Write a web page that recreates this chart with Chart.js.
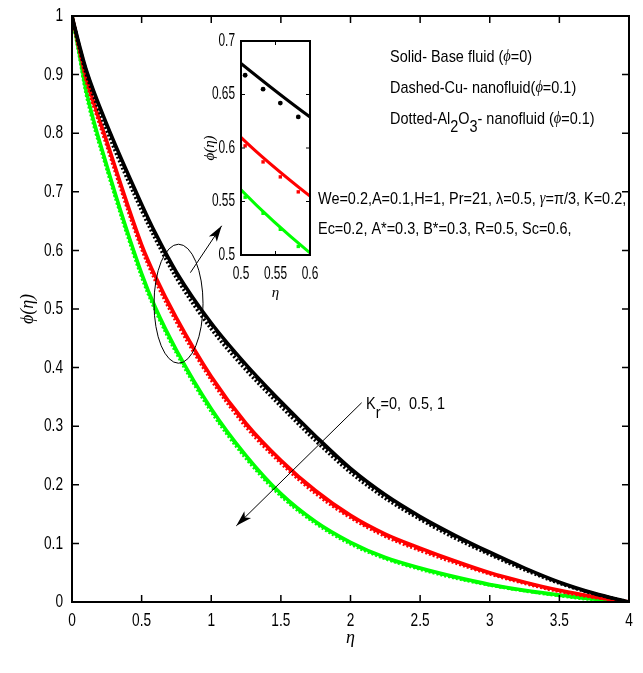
<!DOCTYPE html>
<html>
<head>
<meta charset="utf-8">
<script src="https://cdn.jsdelivr.net/npm/chart.js@4.4.1/dist/chart.umd.min.js"></script>
<style>
  body { margin: 0; background: #fff; }
  #wrap { position: relative; width: 643px; height: 673px; }
  #main { position: absolute; left: 0; top: 0; }
  #inset { position: absolute; left: 190px; top: 25px; }
</style>
</head>
<body>
<div id="wrap">
  <canvas id="main" width="643" height="673"></canvas>
  <canvas id="inset" width="135" height="285"></canvas>
</div>
<script>
// η の値（読み取り）
const ETA = [0, 0.05, 0.1, 0.25, 0.5, 0.6, 0.75, 1, 1.25, 1.5, 1.75, 2, 2.25, 2.5, 2.75, 3, 3.25, 3.5, 3.75, 4];

// Kr=0 (黒)
const BLACK_SOLID  = [1, 0.953, 0.910, 0.815, 0.679, 0.629, 0.563, 0.476, 0.405, 0.342, 0.283, 0.228, 0.183, 0.146, 0.114, 0.085, 0.058, 0.034, 0.015, 0];
const BLACK_DASHED = [1, 0.952, 0.909, 0.813, 0.677, 0.627, 0.561, 0.474, 0.403, 0.340, 0.281, 0.226, 0.181, 0.144, 0.112, 0.083, 0.057, 0.033, 0.014, 0];
const BLACK_DOTTED = [1, 0.948, 0.903, 0.805, 0.668, 0.619, 0.553, 0.466, 0.396, 0.334, 0.275, 0.221, 0.177, 0.141, 0.109, 0.081, 0.055, 0.032, 0.014, 0];
// Kr=0.5 (赤)
const RED_SOLID  = [1, 0.948, 0.897, 0.786, 0.610, 0.555, 0.485, 0.385, 0.305, 0.242, 0.190, 0.148, 0.116, 0.092, 0.070, 0.050, 0.034, 0.020, 0.009, 0];
const RED_DASHED = [1, 0.947, 0.895, 0.784, 0.608, 0.553, 0.483, 0.383, 0.303, 0.240, 0.188, 0.146, 0.114, 0.090, 0.069, 0.049, 0.033, 0.019, 0.009, 0];
const RED_DOTTED = [1, 0.945, 0.892, 0.779, 0.603, 0.548, 0.478, 0.379, 0.299, 0.237, 0.185, 0.144, 0.112, 0.088, 0.067, 0.048, 0.032, 0.018, 0.008, 0];
// Kr=1 (緑)
const GREEN_SOLID  = [1, 0.940, 0.875, 0.745, 0.561, 0.502, 0.430, 0.330, 0.250, 0.185, 0.137, 0.102, 0.076, 0.058, 0.043, 0.030, 0.020, 0.012, 0.005, 0];
const GREEN_DASHED = [1, 0.939, 0.873, 0.743, 0.559, 0.500, 0.428, 0.328, 0.248, 0.183, 0.136, 0.101, 0.075, 0.057, 0.042, 0.029, 0.019, 0.011, 0.005, 0];
const GREEN_DOTTED = [1, 0.936, 0.869, 0.739, 0.555, 0.497, 0.425, 0.325, 0.245, 0.181, 0.134, 0.099, 0.074, 0.056, 0.041, 0.029, 0.019, 0.011, 0.004, 0];

// 拡大図の点線マーカー
const INSET_ETA = [0.506, 0.532, 0.557, 0.583];
const INSET_BLACK_DOTS = [0.668, 0.655, 0.642, 0.629];
const INSET_RED_DOTS = [0.602, 0.587, 0.573, 0.559];
const INSET_GREEN_DOTS = [0.554, 0.539, 0.524, 0.508];

const BLACK = '#000000', RED = '#ff0000', GREEN = '#00ff00';
const SANS = '"Liberation Sans", Arial, sans-serif';
const SERIF = '"Liberation Serif", "DejaVu Serif", serif';
const NARROW_X = 0.85; // 細身フォントがないので横に縮める

const series = (xs, ys) => xs.map((x, i) => ({ x: x, y: ys[i] }));

const lineSet = (ys, color, dash, width) => ({
  data: series(ETA, ys),
  borderColor: color,
  backgroundColor: color,
  borderWidth: width,
  borderDash: dash,
  pointRadius: 0,
  tension: 0.4,
  cubicInterpolationMode: 'monotone',
});

// 横に縮めた文字
function fillNarrow(ctx, text, x, y, align, sx) {
  ctx.save();
  ctx.translate(x, y);
  ctx.scale(sx, 1);
  ctx.textAlign = align;
  ctx.fillText(text, 0, 0);
  ctx.restore();
}

const fmt = v => String(Math.round(v * 100) / 100);

// 枠・内向きの目盛り・目盛りラベル・軸タイトル
const framePlugin = {
  id: 'frame',
  afterDraw(chart, args, opts) {
    const { ctx, chartArea: a } = chart;
    const x = chart.scales.x, y = chart.scales.y;
    ctx.save();
    ctx.strokeStyle = '#000';
    ctx.fillStyle = '#000';
    ctx.lineWidth = opts.width;
    ctx.strokeRect(a.left, a.top, a.right - a.left, a.bottom - a.top);
    ctx.lineWidth = opts.tickWidth;
    ctx.beginPath();
    x.ticks.forEach(t => {
      const px = x.getPixelForValue(t.value);
      ctx.moveTo(px, a.bottom); ctx.lineTo(px, a.bottom - opts.len);
      ctx.moveTo(px, a.top); ctx.lineTo(px, a.top + opts.len);
    });
    y.ticks.forEach(t => {
      const py = y.getPixelForValue(t.value);
      ctx.moveTo(a.left, py); ctx.lineTo(a.left + opts.len, py);
      ctx.moveTo(a.right, py); ctx.lineTo(a.right - opts.len, py);
    });
    ctx.stroke();

    ctx.font = opts.labelFont;
    ctx.textBaseline = 'middle';
    x.ticks.forEach(t => fillNarrow(ctx, fmt(t.value), x.getPixelForValue(t.value), opts.xLabelY, 'center', opts.labelScale));
    y.ticks.forEach(t => fillNarrow(ctx, fmt(t.value), opts.yLabelRight, y.getPixelForValue(t.value), 'right', opts.labelScale));

    ctx.font = opts.titleFont;
    ctx.textAlign = 'center';
    ctx.fillText('\u03b7', (a.left + a.right) / 2, opts.xTitleY);
    ctx.translate(opts.yTitleX, (a.top + a.bottom) / 2);
    ctx.rotate(-Math.PI / 2);
    ctx.fillText('\u03d5(\u03b7)', 0, 0);
    ctx.restore();
  }
};

// 文字列を連続で描く（下付きなど）
function drawRuns(ctx, x, y, runs) {
  ctx.save();
  ctx.translate(x, y);
  ctx.scale(NARROW_X, 1);
  let cx = 0;
  runs.forEach(r => {
    ctx.font = r.f || ('17px ' + SANS);
    ctx.fillText(r.t, cx, r.dy || 0);
    cx += ctx.measureText(r.t).width;
  });
  ctx.restore();
}

function arrow(ctx, x1, y1, x2, y2, head) {
  ctx.beginPath();
  ctx.moveTo(x1, y1);
  ctx.lineTo(x2, y2);
  ctx.stroke();
  const c = Math.cos(Math.atan2(y2 - y1, x2 - x1)), s = Math.sin(Math.atan2(y2 - y1, x2 - x1));
  ctx.beginPath();
  ctx.moveTo(x2, y2);
  ctx.lineTo(x2 - head * c + head * 0.3 * s, y2 - head * s - head * 0.3 * c);
  ctx.lineTo(x2 - head * 0.75 * c, y2 - head * 0.75 * s);
  ctx.lineTo(x2 - head * c - head * 0.3 * s, y2 - head * s + head * 0.3 * c);
  ctx.closePath();
  ctx.fill();
}

// 注記（楕円・矢印・説明文）
const notePlugin = {
  id: 'notes',
  afterDraw(chart) {
    const ctx = chart.ctx;
    const x = chart.scales.x, y = chart.scales.y;
    const X = v => x.getPixelForValue(v), Y = v => y.getPixelForValue(v);
    ctx.save();
    ctx.strokeStyle = '#000';
    ctx.fillStyle = '#000';
    ctx.lineWidth = 1;

    ctx.beginPath();
    ctx.ellipse(X(0.765), Y(0.509), 24.5, 59.5, 0, 0, Math.PI * 2);
    ctx.stroke();
    arrow(ctx, X(0.85), Y(0.562), X(1.075), Y(0.642), 16);
    arrow(ctx, X(2.08), Y(0.340), X(1.18), Y(0.130), 16);

    ctx.textAlign = 'left';
    ctx.textBaseline = 'middle';
    const phi = 'italic 17px ' + SERIF;
    drawRuns(ctx, 390, 57, [{ t: 'Solid- Base fluid (' }, { t: '\u03d5', f: phi }, { t: '=0)' }]);
    drawRuns(ctx, 390, 88, [{ t: 'Dashed-Cu- nanofluid(' }, { t: '\u03d5', f: phi }, { t: '=0.1)' }]);
    drawRuns(ctx, 390, 119, [
      { t: 'Dotted-Al' }, { t: '2', dy: 8 }, { t: 'O' }, { t: '3', dy: 8 },
      { t: '- nanofluid (' }, { t: '\u03d5', f: phi }, { t: '=0.1)' }
    ]);
    drawRuns(ctx, 318, 199, [
      { t: 'We=0.2,A=0.1,H=1, Pr=21, \u03bb=0.5, ' }, { t: '\u03b3', f: phi }, { t: '=\u03c0/3, K=0.2,' }
    ]);
    drawRuns(ctx, 318, 229, [{ t: 'Ec=0.2, A*=0.3, B*=0.3, R=0.5, Sc=0.6,' }]);
    drawRuns(ctx, 366, 404, [{ t: 'K' }, { t: 'r', dy: 9 }, { t: '=0,  0.5, 1' }]);
    ctx.restore();
  }
};

const hiddenTicks = (step) => ({ stepSize: step, display: false });

new Chart(document.querySelector('#main').getContext('2d'), {
  type: 'line',
  data: {
    datasets: [
      lineSet(BLACK_DASHED, BLACK, [8, 4], 3),
      lineSet(BLACK_SOLID, BLACK, [], 3.5),
      lineSet(BLACK_DOTTED, BLACK, [2, 2], 3.5),
      lineSet(RED_DASHED, RED, [8, 4], 3),
      lineSet(RED_SOLID, RED, [], 3.5),
      lineSet(RED_DOTTED, RED, [2, 2], 3.5),
      lineSet(GREEN_DASHED, GREEN, [8, 4], 3),
      lineSet(GREEN_SOLID, GREEN, [], 3.5),
      lineSet(GREEN_DOTTED, GREEN, [2, 2], 3.5),
    ],
  },
  options: {
    responsive: false,
    animation: false,
    layout: { padding: { left: 10, right: 14, top: 16, bottom: 0 } },
    plugins: {
      legend: { display: false },
      tooltip: { enabled: false },
      frame: {
        width: 2, tickWidth: 1.5, len: 7,
        labelFont: '19px ' + SANS, labelScale: 0.72, xLabelY: 621, yLabelRight: 63,
        titleFont: 'italic 18px ' + SERIF, xTitleY: 638, yTitleX: 28,
      },
    },
    scales: {
      x: {
        type: 'linear', min: 0, max: 4,
        ticks: hiddenTicks(0.5),
        grid: { display: false },
        border: { display: false },
        afterFit: s => { s.height = 71; },
      },
      y: {
        type: 'linear', min: 0, max: 1,
        ticks: hiddenTicks(0.1),
        grid: { display: false },
        border: { display: false },
        afterFit: s => { s.width = 62; },
      },
    },
  },
  plugins: [framePlugin, notePlugin],
});

const dotSet = (ys, color, style) => ({
  data: series(INSET_ETA, ys),
  showLine: false,
  pointStyle: style,
  pointRadius: 2.4,
  borderWidth: 0,
  pointBackgroundColor: color,
  pointBorderColor: color,
});

const insetLine = (ys, color) => Object.assign(lineSet(ys, color, [], 3), { tension: 0 });

new Chart(document.querySelector('#inset').getContext('2d'), {
  type: 'line',
  data: {
    datasets: [
      insetLine(BLACK_SOLID, BLACK),
      insetLine(RED_SOLID, RED),
      insetLine(GREEN_SOLID, GREEN),
      dotSet(INSET_BLACK_DOTS, BLACK, 'circle'),
      dotSet(INSET_RED_DOTS, RED, 'rect'),
      dotSet(INSET_GREEN_DOTS, GREEN, 'rect'),
    ],
  },
  options: {
    responsive: false,
    animation: false,
    layout: { padding: { left: 0, right: 15, top: 16, bottom: 0 } },
    plugins: {
      legend: { display: false },
      tooltip: { enabled: false },
      frame: {
        width: 2, tickWidth: 1, len: 4,
        labelFont: '18px ' + SANS, labelScale: 0.66, xLabelY: 249, yLabelRight: 45,
        titleFont: 'italic 15px ' + SERIF, xTitleY: 268, yTitleX: 20,
      },
    },
    scales: {
      x: {
        type: 'linear', min: 0.5, max: 0.6,
        ticks: hiddenTicks(0.05),
        grid: { display: false },
        border: { display: false },
        afterFit: s => { s.height = 55; },
      },
      y: {
        type: 'linear', min: 0.5, max: 0.7,
        ticks: hiddenTicks(0.05),
        grid: { display: false },
        border: { display: false },
        afterFit: s => { s.width = 51; },
      },
    },
  },
  plugins: [framePlugin],
});
</script>
</body>
</html>
